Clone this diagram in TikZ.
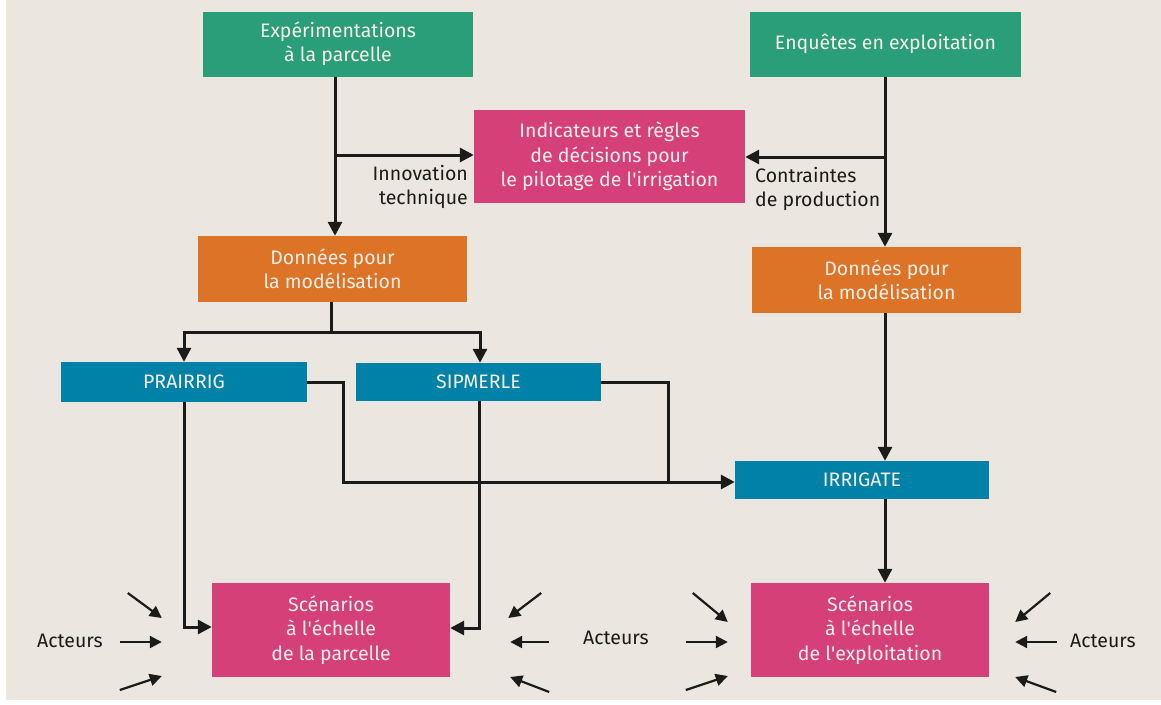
\documentclass[tikz,border=0pt]{standalone}
\usepackage{fontspec}
\setmainfont{Fira Sans}
\usetikzlibrary{arrows.meta,calc}
\definecolor{bg}{HTML}{EBE6E0}
\definecolor{cgreen}{HTML}{2A9E79}
\definecolor{cpink}{HTML}{D54079}
\definecolor{corange}{HTML}{DD7326}
\definecolor{cblue}{HTML}{0082A8}
\definecolor{ctext}{HTML}{F6EFE9}
\definecolor{cline}{HTML}{1B1B19}
\newcommand{\ap}{\textquotesingle}
\tikzset{
  box/.style={rectangle, inner sep=0pt, text=ctext, align=center,
    font=\fontsize{19.5}{24.5}\selectfont},
  arr/.style={draw=cline, line width=3pt, -{Triangle[length=14pt,width=14pt]}},
  ln/.style={draw=cline, line width=3pt},
  act/.style={draw=cline, line width=2.2pt, -{Triangle[length=12pt,width=12pt]}},
  lbl/.style={text=cline, font=\fontsize{19.5}{24}\selectfont, inner sep=0pt}
}
\begin{document}
\begin{tikzpicture}[x=1pt,y=-1pt]
\useasboundingbox (0,0) rectangle (1161,704);
\fill[white] (0,0) rectangle (1161,704);
\fill[bg] (6,0) rectangle (1161,700);
% boxes
\node[box, fill=cgreen, minimum width=270, minimum height=65] (exp) at (338,44) {Expérimentations\\à la parcelle};
\node[box, fill=cgreen, minimum width=271, minimum height=65] (enq) at (885.5,44) {Enquêtes en exploitation};
\node[box, fill=cpink, minimum width=271, minimum height=93] (ind) at (609.5,156.5) {Indicateurs et règles\\de décisions pour\\le pilotage de l\ap irrigation};
\node[box, fill=corange, minimum width=269, minimum height=66] (d1) at (332.5,269) {Données pour\\la modélisation};
\node[box, fill=corange, minimum width=269, minimum height=66] (d2) at (886.5,280) {Données pour\\la modélisation};
\node[box, fill=cblue, minimum width=246, minimum height=40] (pr) at (184,382) {PRAIRRIG};
\node[box, fill=cblue, minimum width=245, minimum height=38] (si) at (478.5,382) {SIPMERLE};
\node[box, fill=cblue, minimum width=254, minimum height=38] (ir) at (862,480) {IRRIGATE};
\node[box, fill=cpink, minimum width=238, minimum height=94] (s1) at (331,630) {Scénarios\\à l\ap échelle\\de la parcelle};
\node[box, fill=cpink, minimum width=238, minimum height=94] (s2) at (870,630) {Scénarios\\à l\ap échelle\\de l\ap exploitation};
% labels
\node[lbl, anchor=east, align=right] (lin) at (468,187) {Innovation\\technique};
\node[lbl, anchor=west, align=left] (lco) at (755,189) {Contraintes\\de production};
\node[lbl] (a1) at (70,641) {Acteurs};
\node[lbl] (a2) at (616,638) {Acteurs};
\node[lbl] (a3) at (1103,641) {Acteurs};
% connectors
\coordinate (j1) at (335,155);
\coordinate (j2) at (885,157);
\draw[arr] ([xshift=-3]exp.south) -- (d1.north -| j1);
\draw[arr] (j1) -- (j1 -| ind.west);
\draw[arr] (enq.south -| j2) -- (d2.north -| j2);
\draw[arr] (j2) -- (j2 -| ind.east);
\coordinate (j3) at (331,332);
\draw[ln] (d1.south -| j3) -- (j3);
\draw[arr] (j3) -| (pr.north);
\draw[arr] (j3) -| ([xshift=1.5]si.north);
\coordinate (j4) at (668,482);
\draw[arr] (pr.east) -| (343,482) -- (ir.west |- j4);
\draw[ln] (si.east) -| (j4);
\draw[arr] (d2.south -| j2) -- (ir.north -| j2);
\draw[arr] (ir.south -| j2) -- (s2.north -| j2);
\draw[arr] (pr.south) |- ([yshift=3]s1.west);
\draw[arr] ([xshift=0.5]si.south) |- ([yshift=2]s1.east);
% actor arrows
\foreach \n/\a/\b/\c/\d in {s1.west/-84/-37/-50/-12, s1.west/-92/12/-50/12, s1.west/-92/60/-50/46,
  s1.east/91/-37/58/-12, s1.east/99/12/60/12, s1.east/99/62/60/47,
  s2.west/-58/-37/-23/-8, s2.west/-65/12/-23/12, s2.west/-65/60/-23/46,
  s2.east/61/-37/26/-8, s2.east/68/12/26/12, s2.east/67/62/26/47}
  \draw[act] ([shift={(\a,\b)}]\n) -- ([shift={(\c,\d)}]\n);
\end{tikzpicture}
\end{document}
